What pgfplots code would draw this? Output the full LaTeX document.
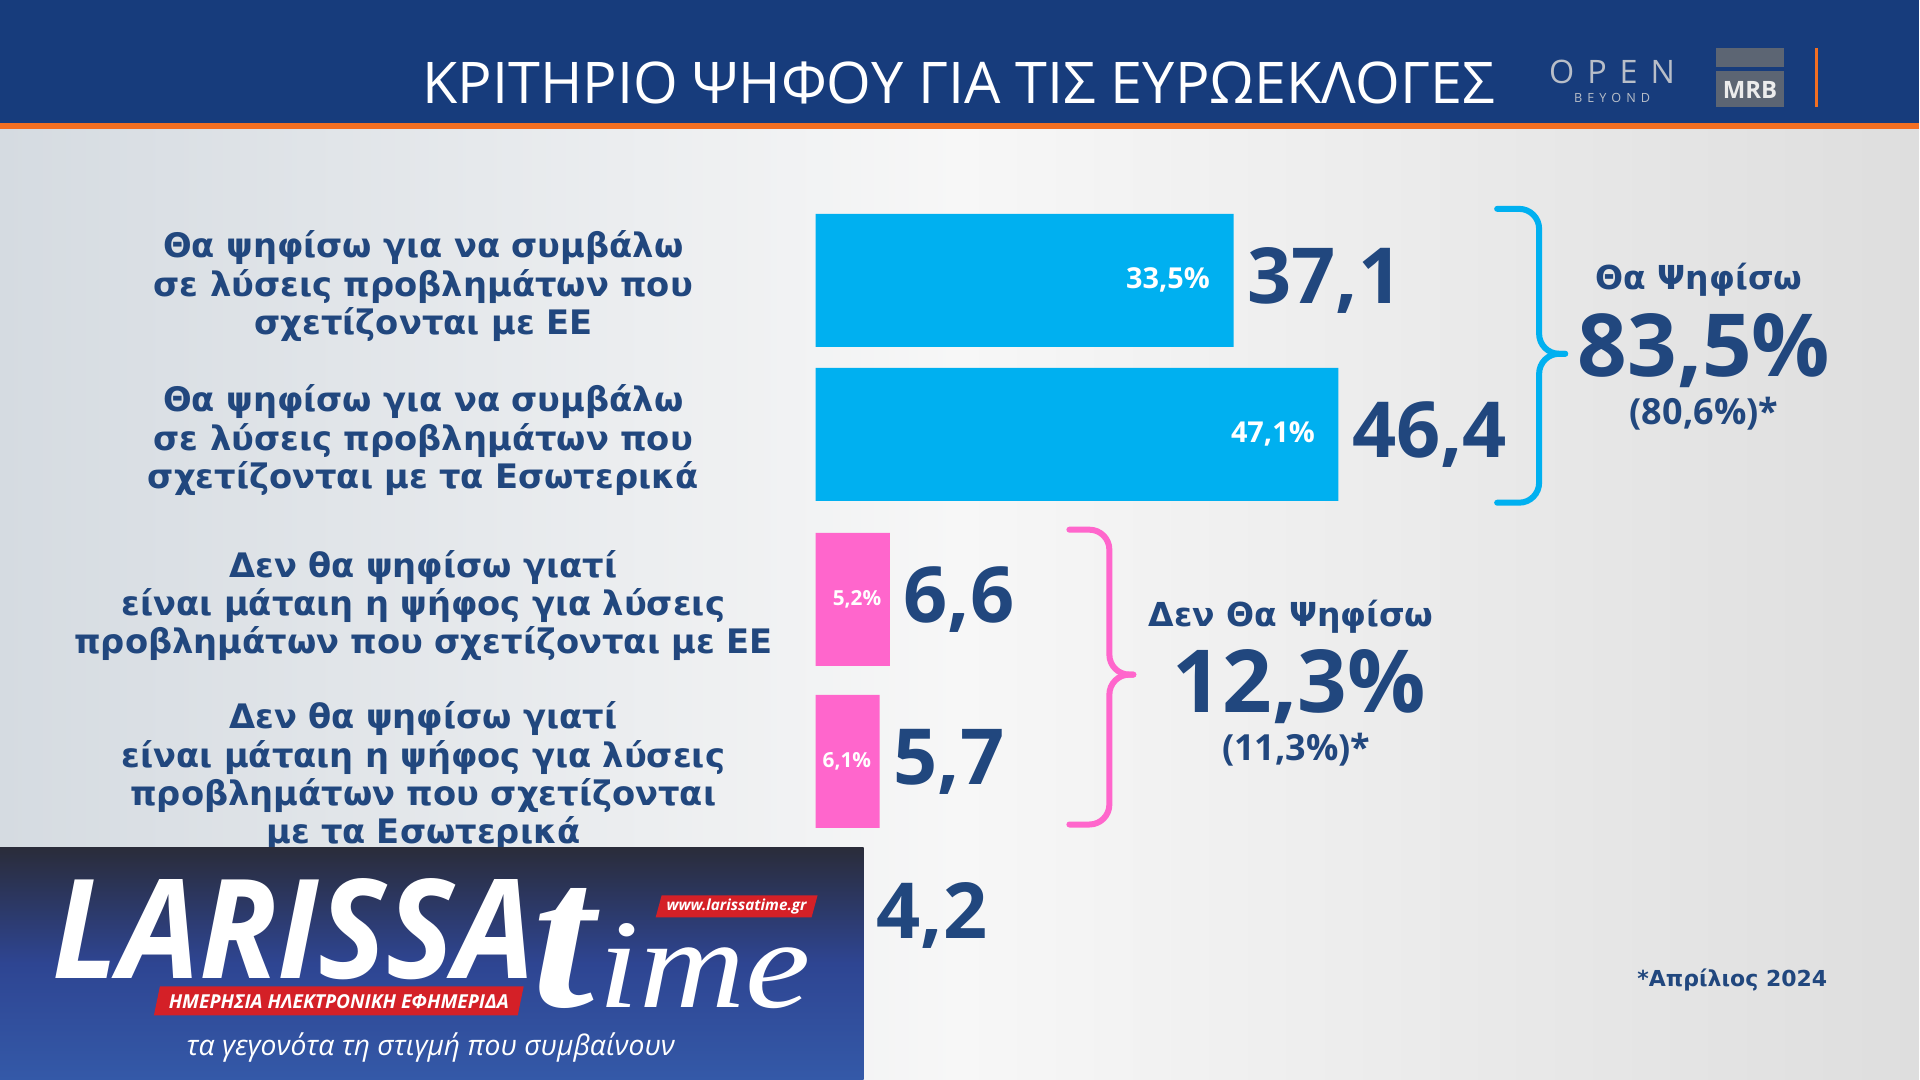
\documentclass[border=0pt]{standalone}
\usepackage{fontspec}
\setmainfont{Open Sans}
\newfontfamily\dejavu{DejaVu Sans}
\newfontfamily\serifit{Liberation Serif}
\usepackage{graphicx}
\usepackage{pgfplots}
\pgfplotsset{compat=1.18}
\definecolor{navy}{HTML}{21477E}
\definecolor{barblue}{HTML}{00B0F0}
\definecolor{barpink}{HTML}{FF66CC}
\definecolor{bardark}{HTML}{333333}
\definecolor{headblue}{HTML}{173C7C}
\definecolor{stripe}{HTML}{F36F21}
\definecolor{bgl}{HTML}{D5DBE1}
\definecolor{bgm}{HTML}{F7F7F7}
\definecolor{bgr}{HTML}{DEDEDE}
\definecolor{olTop}{HTML}{2A2C3A}
\definecolor{olMid}{HTML}{2E4592}
\definecolor{olBot}{HTML}{3459A8}
\definecolor{olRed}{HTML}{D42027}
\definecolor{logogray}{HTML}{5C6573}
\definecolor{opengray}{HTML}{B8BEC8}
\begin{document}
\begin{tikzpicture}
\useasboundingbox (0,0) rectangle (19.2,10.8);
\begin{scope}[x=0.01cm,y=-0.01cm,yshift=10.8cm]
  \shade[left color=bgl, right color=bgr, middle color=bgm] (0,0) rectangle (1920,1080);
  \fill[headblue] (0,0) rectangle (1920,123);
  \fill[stripe] (0,123) rectangle (1920,129);
  \node[anchor=base west, inner sep=0pt, text=white] at (422,104)
    {\resizebox{10.72cm}{!}{\fontsize{15.9pt}{18pt}\selectfont ΚΡΙΤΗΡΙΟ ΨΗΦΟΥ ΓΙΑ ΤΙΣ ΕΥΡΩΕΚΛΟΓΕΣ}};
  % logos
  \node[anchor=base, inner sep=0pt, text=opengray] at (1613,84)
    {\fontsize{9.2pt}{10pt}\selectfont O\hspace{0.13cm}P\hspace{0.13cm}E\hspace{0.13cm}N};
  \node[anchor=base, inner sep=0pt, text=opengray] at (1613,103)
    {\fontsize{3.6pt}{4pt}\selectfont B\hspace{0.05cm}E\hspace{0.05cm}Y\hspace{0.05cm}O\hspace{0.05cm}N\hspace{0.05cm}D};
  \fill[logogray] (1717,48) rectangle (1785,67);
  \fill[logogray] (1717,71) rectangle (1785,107);
  \node[inner sep=0pt, text=white!85!gray] at (1751,90) {\bfseries\fontsize{6.8pt}{7pt}\selectfont MRB};
  \draw[stripe, line width=0.03cm] (1818,48) -- (1818,107);
\end{scope}

\begin{axis}[
  at={(8.155cm,0.851cm)}, anchor=south west,
  scale only axis, width=10.819cm, height=7.94cm,
  xmin=0, xmax=96, ymin=-0.5, ymax=4.5, y dir=reverse,
  axis line style={draw=none}, xtick=\empty,
  ytick={0,0.97,2.01,3.085,4}, major tick length=0pt,
  yticklabels={
    {Θα ψηφίσω για να συμβάλω\\σε λύσεις προβλημάτων που\\σχετίζονται με ΕΕ},
    {Θα ψηφίσω για να συμβάλω\\σε λύσεις προβλημάτων που\\σχετίζονται με τα Εσωτερικά},
    {Δεν θα ψηφίσω γιατί\\είναι μάταιη η ψήφος για λύσεις\\προβλημάτων που σχετίζονται με ΕΕ},
    {Δεν θα ψηφίσω γιατί\\είναι μάταιη η ψήφος για λύσεις\\προβλημάτων που σχετίζονται\\με τα Εσωτερικά},
    {}},
  yticklabel style={text width=7.6cm, align=center, inner sep=0pt, xshift=-0.115cm, yshift=-0.06cm,
    text=navy, font=\dejavu\bfseries\fontsize{9.6pt}{10.9pt}\selectfont},
  clip=false,
]
\addplot[xbar, bar shift=0pt, bar width=1.33cm, fill=barblue, draw=none,
  nodes near coords, point meta=explicit symbolic,
  nodes near coords style={anchor=east, inner sep=0pt, xshift=-0.23cm, text=white,
    font=\bfseries\fontsize{8.2pt}{9pt}\selectfont}]
  coordinates {(37.1,0) [33,5\%] (46.4,0.97) [47,1\%]};
\addplot[xbar, bar shift=0pt, bar width=1.33cm, fill=barpink, draw=none,
  nodes near coords, point meta=explicit symbolic,
  nodes near coords style={anchor=east, inner sep=0pt, xshift=-0.08cm, text=white,
    font=\bfseries\fontsize{5.9pt}{7pt}\selectfont}]
  coordinates {(6.6,2.01) [5,2\%] (5.7,3.03) [6,1\%]};
\addplot[xbar, bar shift=0pt, bar width=1.33cm, fill=bardark, draw=none]
  coordinates {(4.2,4)};
\addplot[draw=none, mark=none, nodes near coords, point meta=explicit symbolic,
  nodes near coords style={anchor=west, inner sep=0pt, xshift=0.13cm, text=navy,
    font=\bfseries\fontsize{22pt}{24pt}\selectfont}]
  coordinates {(37.1,0) [37,1] (46.4,0.97) [46,4] (6.6,2.01) [6,6] (5.7,3.03) [5,7] (4.2,4) [4,2]};
\end{axis}

\begin{scope}[x=0.01cm,y=-0.01cm,yshift=10.8cm]
  % braces
  \draw[barblue, line width=0.06cm, rounded corners=0.2cm, line cap=round]
    (1498,209) -- (1540,209) -- (1540,354) -- (1566,354);
  \draw[barblue, line width=0.06cm, rounded corners=0.2cm, line cap=round]
    (1566,354) -- (1540,354) -- (1540,503) -- (1498,503);
  \draw[barpink, line width=0.06cm, rounded corners=0.2cm, line cap=round]
    (1070,530) -- (1110,530) -- (1110,675) -- (1134,675);
  \draw[barpink, line width=0.06cm, rounded corners=0.2cm, line cap=round]
    (1134,675) -- (1110,675) -- (1110,825) -- (1070,825);
  % group totals
  \node[anchor=base, inner sep=0pt, text=navy] at (1700,290)
    {\dejavu\bfseries\fontsize{9.39pt}{10pt}\selectfont Θα Ψηφίσω};
  \node[anchor=base, inner sep=0pt, text=navy] at (1705,377)
    {\bfseries\fontsize{24.75pt}{26pt}\selectfont 83,5\%};
  \node[anchor=base, inner sep=0pt, text=navy] at (1705,425)
    {\bfseries\fontsize{10.24pt}{11pt}\selectfont (80,6\%)*};
  \node[anchor=base, inner sep=0pt, text=navy] at (1292,627)
    {\dejavu\bfseries\fontsize{9.39pt}{10pt}\selectfont Δεν Θα Ψηφίσω};
  \node[anchor=base, inner sep=0pt, text=navy] at (1300,713)
    {\bfseries\fontsize{24.75pt}{26pt}\selectfont 12,3\%};
  \node[anchor=base, inner sep=0pt, text=navy] at (1297,761)
    {\bfseries\fontsize{10.24pt}{11pt}\selectfont (11,3\%)*};
  \node[anchor=base east, inner sep=0pt, text=navy] at (1829,987)
    {\dejavu\bfseries\fontsize{6.26pt}{7pt}\selectfont *Απρίλιος 2024};
  % overlay banner
  \shade[top color=olTop, bottom color=olBot, middle color=olMid] (0,848) rectangle (864,1080);
  \node[anchor=south west, inner sep=0pt, text=white] at (52,981)
    {\resizebox{4.82cm}{1.0cm}{\bfseries\itshape LARISSA}};
  \node[anchor=south west, inner sep=0pt, text=white] at (532,1010)
    {\resizebox{0.62cm}{1.18cm}{\serifit\bfseries\itshape t}};
  \node[anchor=south west, inner sep=0pt, text=white] at (598,1010)
    {\resizebox{2.12cm}{0.84cm}{\serifit\itshape ime}};
  \fill[olRed] (662,896) -- (818,896) -- (812,918) -- (656,918) -- cycle;
  \node[inner sep=0pt, text=white] at (737,907)
    {\resizebox{1.4cm}{!}{\bfseries\itshape www.larissatime.gr}};
  \fill[olRed] (160,987) -- (524,987) -- (518,1016) -- (154,1016) -- cycle;
  \node[inner sep=0pt, text=white] at (339,1002)
    {\resizebox{3.4cm}{!}{\bfseries\itshape ΗΜΕΡΗΣΙΑ ΗΛΕΚΤΡΟΝΙΚΗ ΕΦΗΜΕΡΙΔΑ}};
  \node[inner sep=0pt, text=white] at (431,1048)
    {\resizebox{4.88cm}{!}{\itshape τα γεγονότα τη στιγμή που συμβαίνουν}};
\end{scope}
\end{tikzpicture}
\end{document}
